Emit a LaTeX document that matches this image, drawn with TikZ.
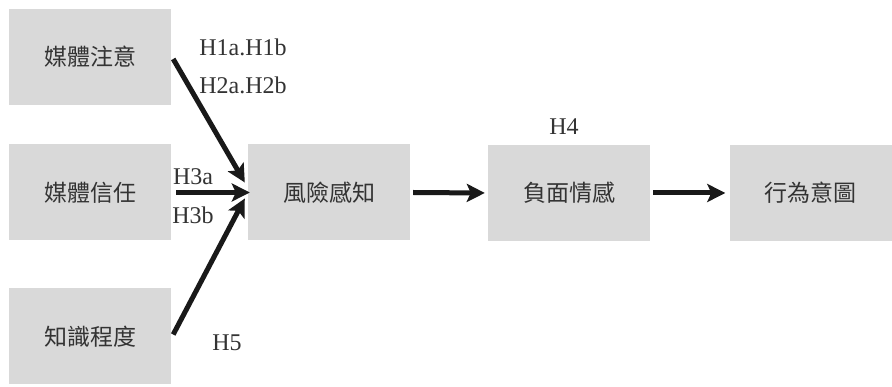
\documentclass[tikz,border=0pt]{standalone}
\usepackage{fontspec}
\setmainfont{Liberation Serif}
\newfontfamily\cjk{Noto Sans CJK TC}
\usetikzlibrary{arrows.meta,calc}
\definecolor{boxgray}{HTML}{D9D9D9}
\definecolor{txt}{HTML}{333333}
\tikzset{
  box/.style={fill=boxgray,draw=none,minimum width=162pt,minimum height=96pt,inner sep=0pt,text=txt,font=\cjk\fontsize{23}{26}\selectfont},
  lbl/.style={text=txt,font=\fontsize{24}{27}\selectfont,inner sep=0pt},
  conn/.style={line width=5pt,-{Stealth[length=18pt,width=18pt,inset=4pt]},black!90}
}
\begin{document}
\begin{tikzpicture}[x=1pt,y=-1pt]
\useasboundingbox (0,0) rectangle (892,387);
\fill[white] (0,0) rectangle (892,387);
\node[box] (m1) at (90,57) {媒體注意};
\node[box] (m2) at (90,192.5) {媒體信任};
\node[box] (m3) at (90,336.5) {知識程度};
\node[box] (risk) at (329,192.5) {風險感知};
\node[box] (neg) at (569,193) {負面情感};
\node[box] (act) at (810.5,193) {行為意圖};
\draw[conn] ($(m1.east)+(2,2)$) -- ($(risk.west)+(-3,-10)$);
\draw[conn] ($(m2.east)+(5,0)$) -- ($(risk.west)+(2,0)$);
\draw[conn] ($(m3.east)+(2,-2)$) -- ($(risk.west)+(-3,6)$);
\draw[conn] ($(risk.east)+(3,0)$) -- ($(neg.west)+(-3,0)$);
\draw[conn] ($(neg.east)+(3,0)$) -- ($(act.west)+(-4,0)$);
\node[lbl] (h1) at (243,47) {H1a.H1b};
\node[lbl] (h2) at (243,85) {H2a.H2b};
\node[lbl] (h3a) at (193,177) {H3a};
\node[lbl] (h3b) at (193,215) {H3b};
\node[lbl] (h4) at (564,127) {H4};
\node[lbl] (h5) at (227,343) {H5};
\end{tikzpicture}
\end{document}
